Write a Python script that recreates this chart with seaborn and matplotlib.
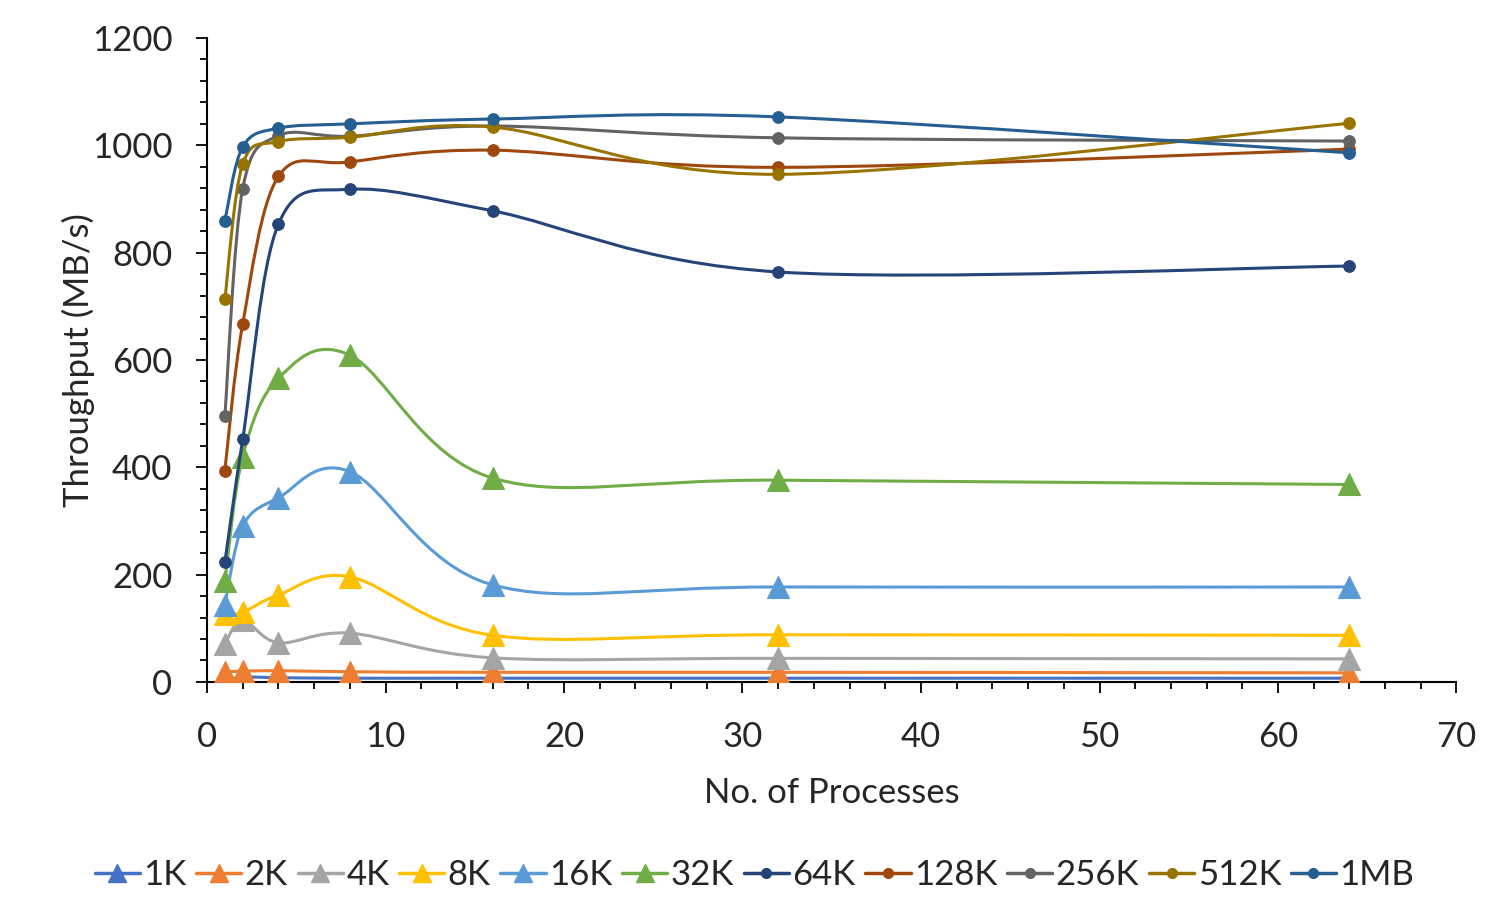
import matplotlib
matplotlib.use("Agg")
import matplotlib.pyplot as plt
from matplotlib.path import Path
from matplotlib.patches import PathPatch
from matplotlib.lines import Line2D
from matplotlib.ticker import MultipleLocator
import seaborn as sns
import pandas as pd

# Dados
processes = [1, 2, 4, 8, 16, 32, 64]
series_names = ["1K", "2K", "4K", "8K", "16K", "32K", "64K", "128K", "256K", "512K", "1MB"]
tp_1k = [2, 9, 8, 7, 7, 7, 7]
tp_2k = [19, 20, 21, 19, 18, 18, 17]
tp_4k = [71, 115, 73, 91, 45, 44, 43]
tp_8k = [126, 130, 162, 196, 87, 88, 87]
tp_16k = [143, 290, 343, 392, 181, 177, 177]
tp_32k = [188, 420, 566, 609, 380, 376, 368]
tp_64k = [223, 452, 853, 918, 878, 764, 775]
tp_128k = [394, 667, 942, 969, 991, 959, 993]
tp_256k = [496, 919, 1018, 1017, 1036, 1014, 1008]
tp_512k = [713, 965, 1007, 1015, 1034, 946, 1041]
tp_1mb = [859, 997, 1032, 1040, 1049, 1053, 986]

all_series = [tp_1k, tp_2k, tp_4k, tp_8k, tp_16k, tp_32k,
              tp_64k, tp_128k, tp_256k, tp_512k, tp_1mb]
colors = ["#4472C4", "#ED7D31", "#A5A5A5", "#FFC000", "#5B9BD5", "#70AD47",
          "#264478", "#9E480E", "#636363", "#997300", "#255E91"]
markers = ["^"] * 6 + ["o"] * 5


# Curva suavizada estilo Excel (Bezier com tangentes Catmull-Rom)
def smooth_path(xs, ys, t=1 / 6):
    pts = list(zip(xs, ys))
    n = len(pts)
    verts = [pts[0]]
    codes = [Path.MOVETO]
    for i in range(n - 1):
        p0 = pts[max(i - 1, 0)]
        p1 = pts[i]
        p2 = pts[i + 1]
        p3 = pts[min(i + 2, n - 1)]
        c1 = (p1[0] + (p2[0] - p0[0]) * t, p1[1] + (p2[1] - p0[1]) * t)
        c2 = (p2[0] - (p3[0] - p1[0]) * t, p2[1] - (p3[1] - p1[1]) * t)
        verts += [c1, c2, p2]
        codes += [Path.CURVE4] * 3
    return Path(verts, codes)


sns.set_theme(style="white")
plt.rcParams['font.family'] = ['Lato', 'DejaVu Sans']
FS = 25

fig = plt.figure(figsize=(15, 9.16), dpi=100)
ax = fig.add_axes([0.138, 0.2555, 0.833, 0.703])

handles = []
for k, (name, vals) in enumerate(zip(series_names, all_series)):
    df = pd.DataFrame({'Processos': processes, 'Throughput': vals})
    ax.add_patch(PathPatch(smooth_path(processes, vals), facecolor='none',
                           edgecolor=colors[k], lw=2.2, zorder=3 + 2 * k))
    size = 250 if markers[k] == "^" else 70
    sns.scatterplot(data=df, x='Processos', y='Throughput', ax=ax,
                    marker=markers[k], color=colors[k], s=size,
                    edgecolor=colors[k], linewidth=0.8, zorder=4 + 2 * k)
    ms = 13 if markers[k] == "^" else 7
    handles.append(Line2D([], [], color=colors[k], lw=2.5, marker=markers[k],
                          markersize=ms, label=name))

ax.set_xlim(0, 70)
ax.set_ylim(0, 1200)
ax.xaxis.set_major_locator(MultipleLocator(10))
ax.xaxis.set_minor_locator(MultipleLocator(2))
ax.yaxis.set_major_locator(MultipleLocator(200))
ax.yaxis.set_minor_locator(MultipleLocator(40))

sns.despine(ax=ax)
for side in ['left', 'bottom']:
    ax.spines[side].set_color('black')
    ax.spines[side].set_linewidth(1.5)
ax.tick_params(which='both', direction='out', color='black', width=1.3,
               left=True, bottom=True, labelsize=FS)
ax.tick_params(which='major', length=8, pad=17)
ax.tick_params(which='minor', length=5)
ax.tick_params(axis='x', pad=20)
ax.grid(False)

ax.set_xlabel('No. of Processes', fontsize=FS)
ax.set_ylabel('Throughput (MB/s)', fontsize=FS)
ax.xaxis.set_label_coords(0.5, -0.148)
ax.yaxis.set_label_coords(-0.09, 0.5)

fig.legend(handles=handles, loc='center', bbox_to_anchor=(0.503, 0.045),
           ncol=11, frameon=False, fontsize=FS, handlelength=1.3,
           handletextpad=0.1, columnspacing=0.28, borderaxespad=0)

fig.savefig('out.png', dpi=100)
